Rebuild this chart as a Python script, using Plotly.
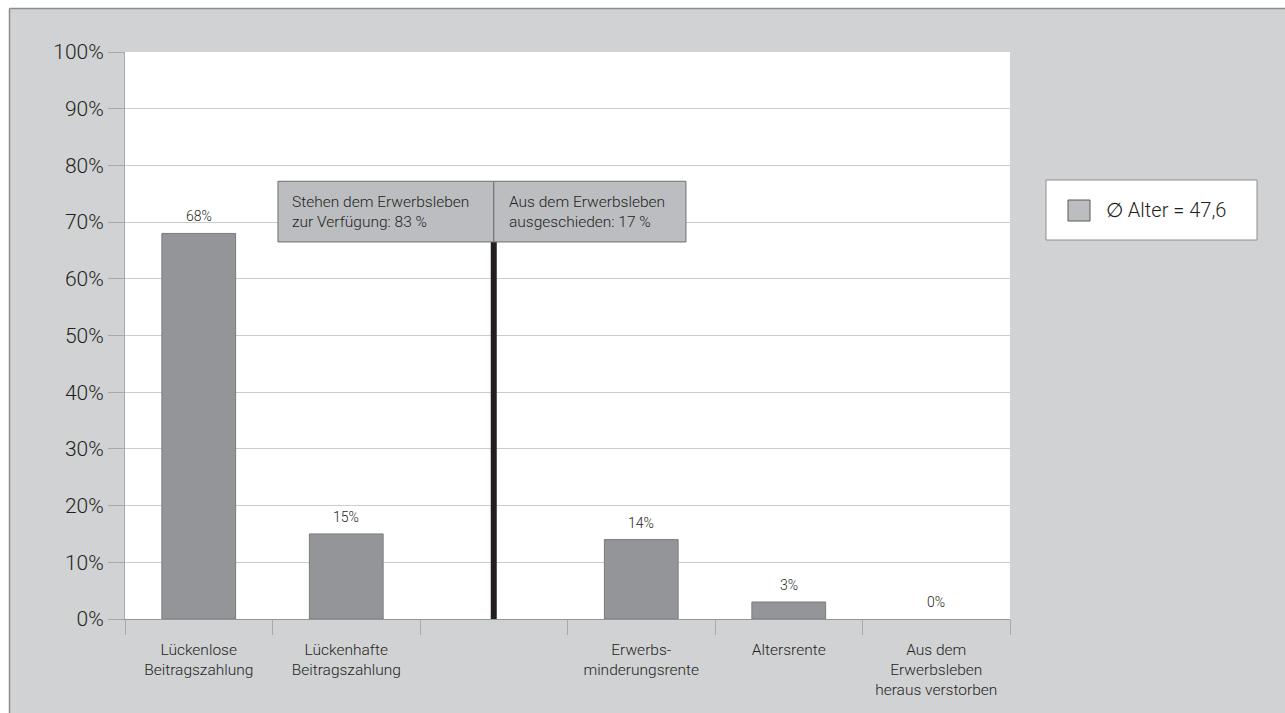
import plotly.graph_objects as go

categories = ["Lückenlose<br>Beitragszahlung", "Lückenhafte<br>Beitragszahlung", " ",
              "Erwerbs-<br>minderungsrente", "Altersrente",
              "Aus dem<br>Erwerbsleben<br>heraus verstorben"]
values = [68, 15, None, 14, 3, 0]
value_labels = ["68%", "15%", "", "14%", "3%", "0%"]
y_ticks = [0, 10, 20, 30, 40, 50, 60, 70, 80, 90, 100]
y_tick_labels = [f"{v}%" for v in y_ticks]
series_name = "∅ Alter = 47,6"
box_texts = ["Stehen dem Erwerbsleben<br>zur Verfügung: 83 %",
             "Aus dem Erwerbsleben<br>ausgeschieden: 17 %"]
divider_top = 66.5
box_bottom, box_top = 66.5, 77.2

BG = "#d1d2d4"
BAR = "#939598"
BOX = "#bcbdc0"
DARK = "#231f20"
FONT = "Roboto, DejaVu Sans, sans-serif"
WT = 300

W, H = 1285, 713
L, R, T, B = 125, 275, 52, 94
pw, ph = W - L - R, H - T - B
def px(x):
    return (x - L) / pw
def py(y):
    return (H - B - y) / ph

fig = go.Figure()
fig.add_trace(go.Bar(
    x=categories, y=values, name=series_name, width=0.5,
    marker=dict(color=BAR, line=dict(color="#7a7b7e",
                                     width=[0 if not v else 1 for v in values])),
    showlegend=False, hoverinfo="skip",
))

for c, v, t in zip(categories, values, value_labels):
    if v is None:
        continue
    fig.add_annotation(x=c, y=v, text=t, showarrow=False, yanchor="bottom",
                       yshift=7, font=dict(family=FONT, size=14, color=DARK, weight=WT))

shapes = []
# outer white strips and frame
shapes.append(dict(type="rect", xref="paper", yref="paper", x0=px(-20), x1=px(9), y0=py(H + 40), y1=py(-20),
                   fillcolor="white", line=dict(width=0), layer="below"))
shapes.append(dict(type="rect", xref="paper", yref="paper", x0=px(-20), x1=px(W + 40), y0=py(8), y1=py(-20),
                   fillcolor="white", line=dict(width=0), layer="below"))
shapes.append(dict(type="line", xref="paper", yref="paper", x0=px(9.5), x1=px(9.5), y0=py(H + 40), y1=py(8.5),
                   line=dict(color="#8d8e91", width=1.5)))
shapes.append(dict(type="line", xref="paper", yref="paper", x0=px(9.5), x1=px(W + 40), y0=py(8.5), y1=py(8.5),
                   line=dict(color="#8d8e91", width=1.5)))
# divider line
shapes.append(dict(type="line", xref="x", yref="y", x0=2, x1=2, y0=0, y1=divider_top,
                   line=dict(color=DARK, width=6)))
# annotation boxes
shapes.append(dict(type="rect", xref="x", yref="y", x0=0.537, x1=2, y0=box_bottom, y1=box_top,
                   fillcolor=BOX, line=dict(color="#6d6e71", width=1)))
shapes.append(dict(type="rect", xref="x", yref="y", x0=2, x1=3.303, y0=box_bottom, y1=box_top,
                   fillcolor=BOX, line=dict(color="#6d6e71", width=1)))
fig.add_annotation(x=0.537, y=(box_bottom + box_top) / 2, text=box_texts[0], showarrow=False,
                   xanchor="left", xshift=12, align="left",
                   font=dict(family=FONT, size=15.5, color=DARK, weight=WT))
fig.add_annotation(x=2, y=(box_bottom + box_top) / 2, text=box_texts[1], showarrow=False,
                   xanchor="left", xshift=13, align="left",
                   font=dict(family=FONT, size=15.5, color=DARK, weight=WT))
# legend (drawn)
shapes.append(dict(type="rect", xref="paper", yref="paper", x0=px(1046), x1=px(1257), y0=py(240), y1=py(180),
                   fillcolor="white", line=dict(color="#8d8e91", width=1)))
shapes.append(dict(type="rect", xref="paper", yref="paper", x0=px(1068), x1=px(1090), y0=py(221), y1=py(200),
                   fillcolor=BOX, line=dict(color="#58595b", width=1)))
fig.add_annotation(xref="paper", yref="paper", x=px(1104), y=py(210.5), text=series_name,
                   showarrow=False, xanchor="left", yanchor="middle",
                   font=dict(family=FONT, size=20, color=DARK, weight=WT))

fig.update_layout(
    width=W, height=H,
    margin=dict(l=L, r=R, t=T, b=B, autoexpand=False),
    paper_bgcolor=BG, plot_bgcolor="white",
    shapes=shapes, bargap=0.5,
    font=dict(family=FONT, color=DARK),
)
fig.update_xaxes(
    type="category", categoryorder="array", categoryarray=categories,
    range=[-0.5, 5.5], tickson="boundaries", ticks="outside", ticklen=15,
    tickcolor="#a7a9ac", tickwidth=1, ticklabelstandoff=16,
    showline=True, linecolor="#939598", linewidth=1, showgrid=False,
    tickfont=dict(family=FONT, size=15.5, color=DARK, weight=WT), fixedrange=True,
)
fig.update_yaxes(
    range=[0, 100], tickmode="array", tickvals=y_ticks, ticktext=y_tick_labels,
    ticks="outside", ticklen=16,
    tickcolor="#a7a9ac", showline=True, linecolor="#a7a9ac", linewidth=1,
    showgrid=True, gridcolor="#cbcccd", gridwidth=1, zeroline=False,
    tickfont=dict(family=FONT, size=21, color=DARK, weight=WT), fixedrange=True,
)

fig.write_html("out.html")
